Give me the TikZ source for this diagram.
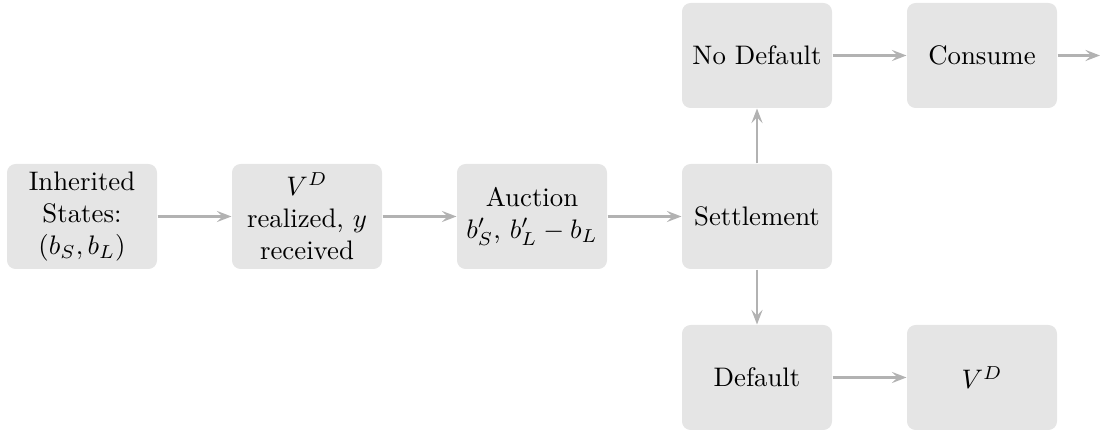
\documentclass[tikz,border=0pt]{standalone}
\usetikzlibrary{arrows.meta}
\begin{document}
\begin{tikzpicture}[x=0.37333pt,y=-0.37333pt,
  box/.style={fill=black!10,rounded corners=3.2pt,minimum width=56pt,minimum height=39.2pt,align=center,inner sep=2pt},
  link/.style={draw=black!30,line width=1.1pt,-{Stealth[length=5.5pt,width=4.2pt,inset=2.2pt]}}]
\useasboundingbox (0,0) rectangle (1101,434);
\node[box] (inh) at (82,216.5) {Inherited\\States:\\$(b_S,b_L)$};
\node[box] (vd) at (307,216.5) {$V^D$\\realized, $y$\\received};
\node[box] (auc) at (532,216.5) {Auction\\$b'_S$, $b'_L-b_L$};
\node[box] (set) at (757,216.5) {Settlement};
\node[box] (nod) at (757,55.5) {No Default};
\node[box] (con) at (982,55.5) {Consume};
\node[box] (def) at (757,377.5) {Default};
\node[box] (vd2) at (982,377.5) {$V^D$};
\coordinate (out) at (1100,55.5);
\draw[link] (inh) -- (vd);
\draw[link] (vd) -- (auc);
\draw[link] (auc) -- (set);
\draw[link] (set) -- (nod);
\draw[link] (set) -- (def);
\draw[link] (nod) -- (con);
\draw[link] (def) -- (vd2);
\draw[link] (con.east) -- (out);
\end{tikzpicture}
\end{document}
